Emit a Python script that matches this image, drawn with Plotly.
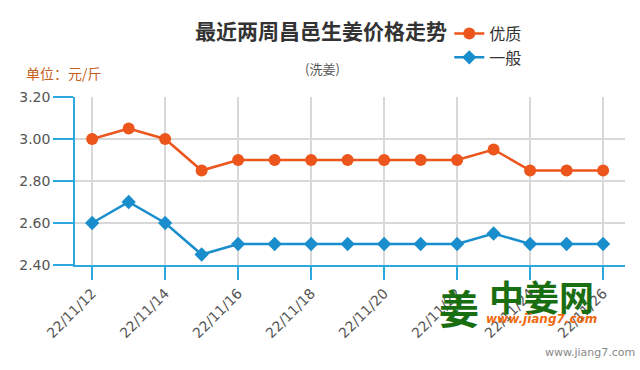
import plotly.graph_objects as go

dates = ["22/11/12", "22/11/13", "22/11/14", "22/11/15", "22/11/16", "22/11/17", "22/11/18",
         "22/11/19", "22/11/20", "22/11/21", "22/11/22", "22/11/23", "22/11/24", "22/11/25", "22/11/26"]
premium = [3.00, 3.05, 3.00, 2.85, 2.90, 2.90, 2.90, 2.90, 2.90, 2.90, 2.90, 2.95, 2.85, 2.85, 2.85]
ordinary = [2.60, 2.70, 2.60, 2.45, 2.50, 2.50, 2.50, 2.50, 2.50, 2.50, 2.50, 2.55, 2.50, 2.50, 2.50]
tick_labels = dates[::2]
y_ticks = [2.40, 2.60, 2.80, 3.00, 3.20]

ORANGE = "#ec561c"
BLUE = "#1a8ecd"
AXIS = "#2aa9e0"
FONT = "Noto Sans CJK SC"

L, R, T, B = 75, 625, 97, 265

fig = go.Figure()
fig.add_trace(go.Scatter(x=dates, y=premium, name="优质", mode="lines+markers",
                         line=dict(color=ORANGE, width=2.5),
                         marker=dict(symbol="circle", size=12, color=ORANGE)))
fig.add_trace(go.Scatter(x=dates, y=ordinary, name="一般", mode="lines+markers",
                         line=dict(color=BLUE, width=2.5),
                         marker=dict(symbol="diamond", size=11, color=BLUE)))

fig.update_layout(
    width=640, height=370,
    margin=dict(l=L, r=640 - R, t=T, b=370 - B, autoexpand=False),
    paper_bgcolor="white", plot_bgcolor="white",
    font=dict(family=FONT, color="#555"),
    showlegend=True,
    legend=dict(x=0.702, y=0.955, xref="container", yref="container",
                xanchor="left", yanchor="top",
                font=dict(size=16, color="#333", family=FONT),
                itemwidth=30, bgcolor="rgba(0,0,0,0)"),
    xaxis=dict(type="category", range=[-0.47, 14.6],
               tickmode="array", tickvals=tick_labels, ticktext=tick_labels,
               tickangle=-45, tickfont=dict(size=14, color="#555", family="DejaVu Sans"),
               ticks="outside", ticklen=13, tickcolor=AXIS, tickwidth=1.5,
               showline=True, linecolor=AXIS, linewidth=1.5,
               showgrid=True, gridcolor="#d8d8d8", gridwidth=1.5, zeroline=False),
    yaxis=dict(range=[2.40, 3.20], tickvals=y_ticks, tickformat=".2f",
               tickfont=dict(size=14, color="#555", family="DejaVu Sans"),
               ticks="outside", ticklen=20, tickcolor=AXIS, tickwidth=1.5,
               showline=True, linecolor=AXIS, linewidth=1.5,
               showgrid=True, gridcolor="#d8d8d8", gridwidth=1.5, zeroline=False),
)

annots = [
    dict(text="<b>最近两周昌邑生姜价格走势</b>", x=321, y=30, size=21, color="#333"),
    dict(text="(洗姜)", x=322, y=68, size=13, color="#555"),
    dict(text="单位：元/斤", x=64, y=73, size=14, color="#c8601a"),
    dict(text="<b>姜</b>", x=459, y=307, size=40, color="#1a6e12"),
    dict(text="<b>中姜网</b>", x=541, y=295, size=35, color="#1a6e12"),
    dict(text="<b><i>www.jiang7.com</i></b>", x=541, y=319, size=12, color="#f06a10",
         family="DejaVu Sans"),
    dict(text="www.jiang7.com", x=590, y=352, size=11, color="#888", family="DejaVu Sans"),
]
for a in annots:
    fig.add_annotation(text=a["text"], x=(a["x"] - L) / (R - L), y=(B - a["y"]) / (B - T),
                       xref="paper", yref="paper",
                       showarrow=False, xanchor="center", yanchor="middle",
                       font=dict(family=a.get("family", FONT), size=a["size"], color=a["color"]))

fig.write_html("out.html", config={"displayModeBar": False},
               post_script="document.body.style.margin='0';")
